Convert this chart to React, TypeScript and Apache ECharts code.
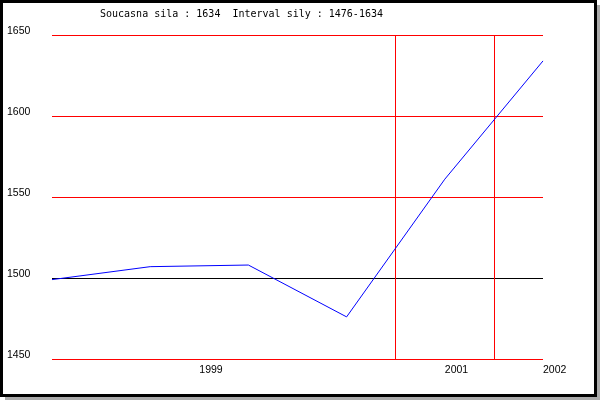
import React, { useEffect, useRef } from "react";
import * as echarts from "echarts";

// Data
const pointIndex = [0, 1, 2, 3, 4, 5];
const ratings = [1499, 1507, 1508, 1476, 1561, 1634];
const yearTickValues = [1.5, 4, 5];
const yearLabels = ["1999", "2001", "2002"];
const yearBoundaries = [3.5, 4.5];
const referenceLevel = 1500;
const titleText = "Soucasna sila : 1634  Interval sily : 1476-1634";

export default function App() {
  const ref = useRef<HTMLDivElement>(null);

  useEffect(() => {
    if (!ref.current) return;
    const chart = echarts.init(ref.current, undefined, { renderer: "svg" });
    const labelFont = "'Liberation Sans', Arial, sans-serif";
    chart.setOption({
      animation: false,
      backgroundColor: "transparent",
      title: {
        text: titleText,
        left: 100,
        top: 8,
        padding: 0,
        textStyle: {
          fontFamily: "'DejaVu Sans Mono', monospace",
          fontSize: 10,
          fontWeight: "normal",
          color: "#000",
        },
      },
      graphic: [
        {
          type: "rect",
          z: -100,
          silent: true,
          shape: { x: 5, y: 5, width: 595, height: 395 },
          style: { fill: "#aaaaaa" },
        },
        {
          type: "rect",
          z: -99,
          silent: true,
          shape: { x: 1.5, y: 1.5, width: 594, height: 394 },
          style: { fill: "#ffffff", stroke: "#000000", lineWidth: 3 },
        },
      ],
      grid: { left: 52, right: 57, top: 35, bottom: 41 },
      xAxis: {
        type: "value",
        min: 0,
        max: 5,
        axisLine: { show: false },
        axisTick: { show: false },
        splitLine: { show: false },
        axisLabel: {
          customValues: yearTickValues,
          formatter: (v: number) => {
            const i = yearTickValues.indexOf(v);
            return i >= 0 ? yearLabels[i] : "";
          },
          align: "left",
          margin: 4,
          color: "#000",
          fontSize: 10.5,
          fontFamily: labelFont,
        },
      },
      yAxis: {
        type: "value",
        min: 1450,
        max: 1650,
        interval: 50,
        axisLine: { show: false },
        axisTick: { show: false },
        splitLine: { show: true, lineStyle: { color: "#ff0000", width: 1, type: "solid" } },
        axisLabel: {
          formatter: (v: number) => String(v),
          align: "left",
          verticalAlign: "bottom",
          margin: 45,
          color: "#000",
          fontSize: 10.5,
          fontFamily: labelFont,
        },
      },
      series: [
        {
          type: "line",
          data: pointIndex.map((x, i) => [x, ratings[i]]),
          showSymbol: false,
          symbol: "none",
          lineStyle: { color: "#0000ff", width: 1 },
          z: 5,
          markLine: {
            silent: true,
            symbol: "none",
            label: { show: false },
            z: 3,
            data: [
              { yAxis: referenceLevel, lineStyle: { color: "#000000", width: 1, type: "solid" } },
              ...yearBoundaries.map((b) => ({
                xAxis: b,
                lineStyle: { color: "#ff0000", width: 1, type: "solid" },
              })),
            ],
          },
        },
      ],
    });
    return () => chart.dispose();
  }, []);

  return (
    <div
      ref={ref}
      style={{ position: "fixed", left: 0, top: 0, width: 600, height: 400 }}
    />
  );
}
